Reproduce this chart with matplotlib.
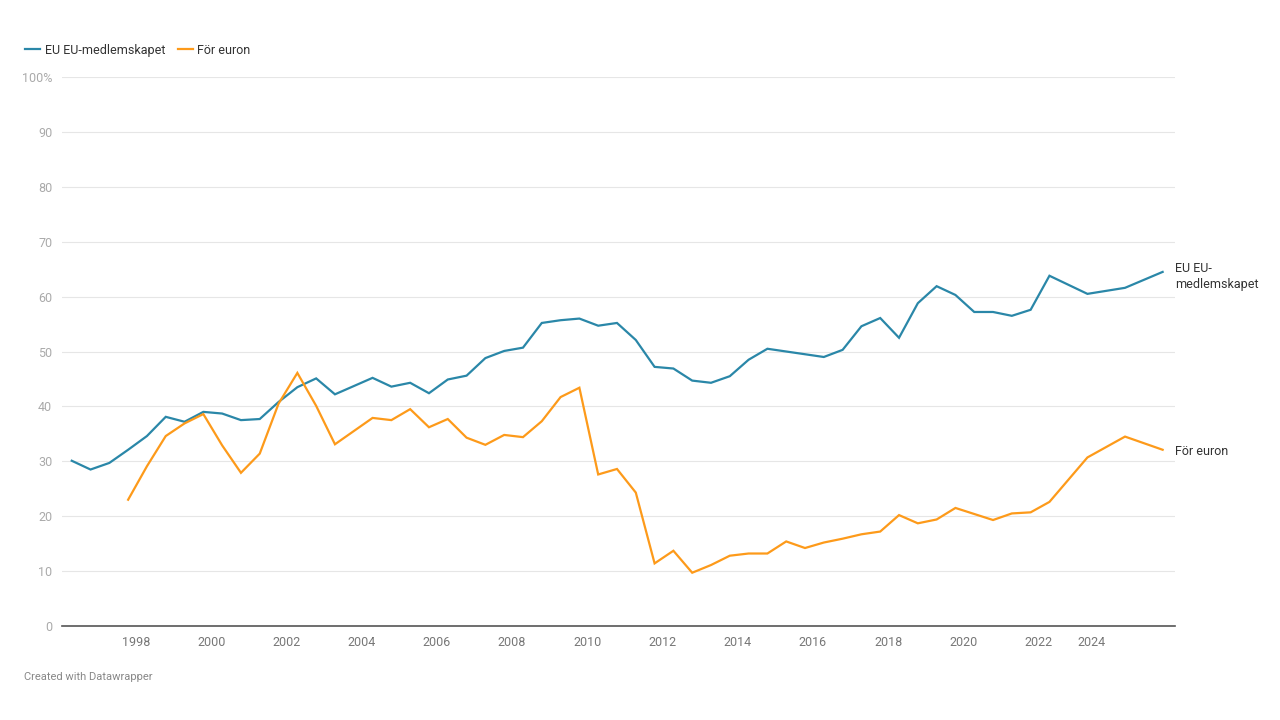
import numpy as np
import matplotlib
matplotlib.use("Agg")
import matplotlib.pyplot as plt

plt.rcParams["font.family"] = ["Roboto", "DejaVu Sans"]

# Survey dates: half-yearly 1996-2022, then yearly
dates = list(1996.29 + 0.5 * np.arange(53)) + [2023.3, 2024.3, 2025.3]

eu_member = [
    30.1, 28.5, 29.7, 32.1, 34.6, 38.1, 37.2, 39.0, 38.7, 37.5,
    37.7, 40.8, 43.5, 45.1, 42.2, 43.7, 45.2, 43.6, 44.3, 42.4,
    44.9, 45.6, 48.8, 50.1, 50.7, 55.2, 55.7, 56.0, 54.7, 55.2,
    52.1, 47.2, 46.9, 44.7, 44.3, 45.5, 48.5, 50.5, 50.0, 49.5,
    49.0, 50.3, 54.6, 56.1, 52.5, 58.8, 61.9, 60.3, 57.2, 57.2,
    56.5, 57.6, 63.8, 60.5, 61.6, 64.5,
]

# euro question starts a bit later
euro = [
    None, None, None, 23.0, 29.1, 34.6, 36.9, 38.6, 32.9, 27.9,
    31.4, 40.5, 46.1, 40.1, 33.1, 35.5, 37.9, 37.5, 39.5, 36.2,
    37.7, 34.3, 33.0, 34.8, 34.4, 37.3, 41.7, 43.4, 27.6, 28.6,
    24.3, 11.4, 13.7, 9.7, 11.1, 12.8, 13.2, 13.2, 15.4, 14.2,
    15.2, 15.9, 16.7, 17.2, 20.2, 18.7, 19.4, 21.5, 20.4, 19.3,
    20.5, 20.7, 22.6, 30.7, 34.5, 32.1,
]

labels = ["EU EU-medlemskapet", "För euron"]
end_labels = ["EU EU-\nmedlemskapet", "För euron"]
colors = ["#2a87a8", "#fd9a1a"]

year_ticks = [1998, 2000, 2002, 2004, 2006, 2008, 2010, 2012, 2014, 2016,
              2018, 2020, 2022, 2023.42]
year_labels = ["1998", "2000", "2002", "2004", "2006", "2008", "2010", "2012",
               "2014", "2016", "2018", "2020", "2022", "2024"]

fig = plt.figure(figsize=(12.8, 7.2), dpi=100)
ax = fig.add_axes([0.0484, 0.1306, 0.8696, 0.7624])

x = np.array(dates)
series = [np.array(eu_member, dtype=float),
          np.array([np.nan if v is None else v for v in euro], dtype=float)]

for vals, lab, end_lab, col in zip(series, labels, end_labels, colors):
    ax.plot(x, vals, color=col, lw=1.6, label=lab, solid_joinstyle="miter")
    multi = "\n" in end_lab
    # first line of a two-line label sits on the line end
    ax.annotate(end_lab, xy=(x[-1], vals[-1]),
                xytext=(9, 7 if multi else -1),
                textcoords="offset points", va="top" if multi else "center",
                ha="left", fontsize=9, color="#333333", annotation_clip=False,
                linespacing=1.25)

ax.set_xlim(1996.03, 2025.63)
ax.set_ylim(0, 100)

ax.set_yticks(range(0, 101, 10))
ax.set_yticklabels([str(v) if v < 100 else "100%" for v in range(0, 101, 10)])
ax.set_xticks(year_ticks)
ax.set_xticklabels(year_labels)

ax.tick_params(axis="y", length=0, pad=7, labelsize=9, labelcolor="#aaaaaa")
ax.tick_params(axis="x", length=0, pad=7, labelsize=9, labelcolor="#777777")

ax.grid(axis="y", color="#e6e6e6", lw=0.8)
ax.set_axisbelow(True)
for s in ["top", "right", "left"]:
    ax.spines[s].set_visible(False)
ax.spines["bottom"].set_color("#555555")
ax.spines["bottom"].set_linewidth(1.2)

fig.legend(loc="upper left", bbox_to_anchor=(0.011, 0.955), ncol=2,
           frameon=False, fontsize=9, handlelength=1.2, handletextpad=0.35,
           columnspacing=1.0, labelcolor="#333333")

fig.text(0.019, 0.055, "Created with Datawrapper", fontsize=8, color="#888888")

fig.savefig("out.png", dpi=100, facecolor="white")
